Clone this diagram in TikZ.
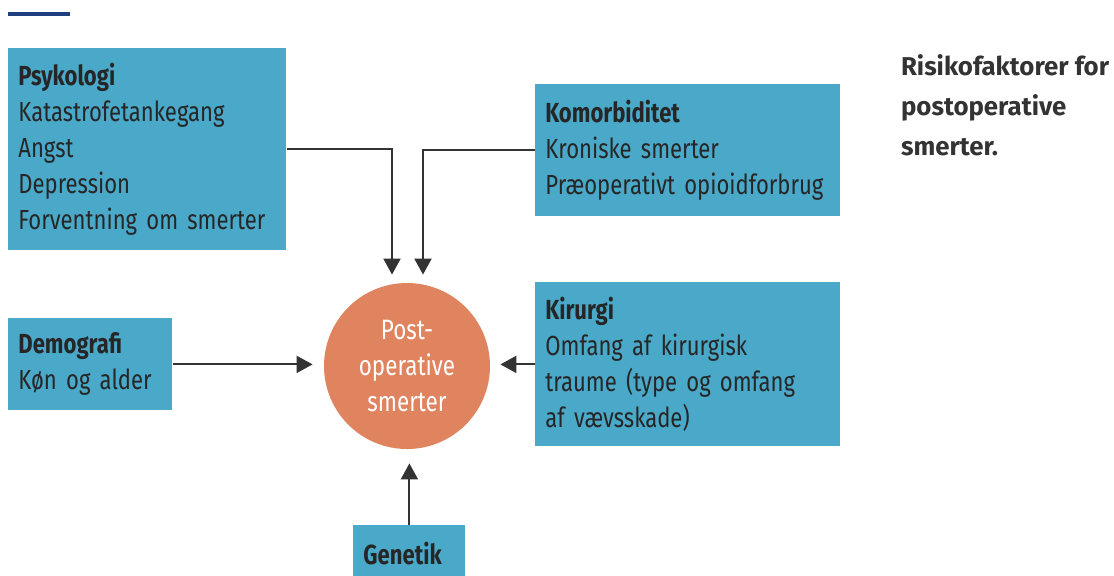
\documentclass[tikz,border=0pt]{standalone}
\usepackage{fontspec}
\setmainfont{Fira Sans}
\newfontfamily\narrowfont[FakeStretch=0.8]{Fira Sans}
\usetikzlibrary{arrows.meta}
\definecolor{boxblue}{HTML}{4AA8C8}
\definecolor{painorange}{HTML}{E0835F}
\definecolor{headblue}{HTML}{1F3F7F}
\definecolor{linegray}{HTML}{333333}

\begin{document}
\begin{tikzpicture}[x=0.5pt, y=-0.5pt]
			\tikzset{factor/.style={fill=boxblue, anchor=north west, align=left, inner xsep=5pt, inner ysep=0pt, text=black!85, font=\narrowfont\fontsize{13.8}{18}\selectfont},
				pain/.style={circle, fill=painorange, inner sep=0pt, minimum size=83pt, align=center, text=white, font=\narrowfont\fontsize{14}{18}\selectfont},
				feeds/.style={draw=linegray, line width=1pt, -{Triangle[width=8.5pt, length=8pt]}}}
			\useasboundingbox (0,0) rectangle (1114,575);
			\clip (0,0) rectangle (1114,575);
			
			\draw[headblue, line width=1.8pt] (8,14) -- (70,14);
			
			\node[factor, text width=129pt, minimum height=101pt] (psyk) at (8,48) {\textbf{Psykologi}\\Katastrofetankegang\\Angst\\Depression\\\mbox{Forventning om smerter}};
			\node[factor, text width=142.5pt, minimum height=66pt] (komorb) at (535,84) {\textbf{Komorbiditet}\\Kroniske smerter\\\mbox{Præoperativt opioidforbrug}};
			\node[factor, text width=72pt, minimum height=46pt] (demo) at (8,318) {\textbf{Demografi}\\Køn og alder};
			\node[factor, text width=142.5pt, minimum height=82pt] (kir) at (535,282) {\textbf{Kirurgi}\\Omfang af kirurgisk\\\mbox{traume (type og omfang}\\af vævsskade)};
			\node[factor, text width=46pt, minimum height=28pt] (gen) at (353,525) {\textbf{Genetik}};
			
			\node[pain] (post) at (407,366) {Post-\\operative\\smerter};
			
			\draw[feeds, shorten >=4pt] (psyk.east) -| ([xshift=-7.5pt]post.north);
			\draw[feeds, shorten >=4pt] (komorb.west) -| ([xshift=8pt]post.north);
			\draw[feeds, shorten >=5.5pt] (demo.east) -- (demo.east -| post.west);
			\draw[feeds, shorten >=5pt] (kir.west) -- (kir.west -| post.east);
			\draw[feeds, shorten >=7pt] (gen.north) -- (gen.north |- post.south);
			
			\node[anchor=north west, align=left, text=black!80, font=\bfseries\fontsize{12.9}{20}\selectfont] (caption) at (894,48) {Risikofaktorer for\\postoperative\\smerter.};
			
		\end{tikzpicture}
\end{document}
